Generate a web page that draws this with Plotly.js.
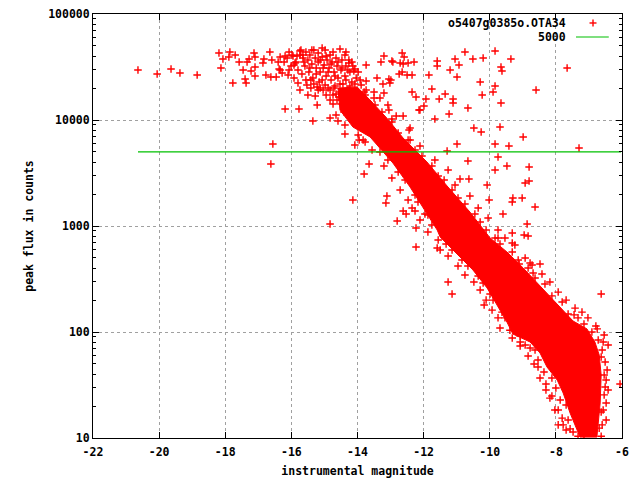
<!DOCTYPE html>
<html>
<head>
<meta charset="utf-8">
<script src="https://cdn.plot.ly/plotly-3.0.1.min.js"></script>
<style>
  html, body { margin: 0; padding: 0; background: #fff; }
  #chart { width: 640px; height: 480px; }
</style>
</head>
<body>
<div id="chart"></div>
<script>
// [instrumental magnitude, peak flux in counts]

// scattered stars away from the main sequence
var sparseStars = [
  [-20.64,29630],[-20.06,27160],[-19.64,30280],[-19.37,27760],[-18.85,26580],
  [-18.19,42870],[-18.13,30940],[-18.07,37640],[-17.86,43810],[-17.89,39300],
  [-17.77,22340],[-17.70,41040],[-17.58,35260],[-17.46,29630],[-17.40,24370],
  [-17.37,22340],[-17.34,35260],[-17.28,37640],[-17.22,29000],[-17.13,42870],
  [-17.10,39300],[-17.10,31620],[-17.10,26020],[-16.86,34500],[-16.83,37640],
  [-16.77,26580],[-16.65,43810],[-16.62,25460],[-16.59,36810],[-16.46,25460],
  [-16.40,35260],[-16.37,30280],[-16.34,39300],[-16.28,27760],[-16.19,12700],
  [-16.13,38450],[-16.07,29630],[-15.95,40160],[-15.89,34500],[-15.80,22340],
  [-15.74,19190],[-15.77,12700],[-15.71,45750],[-15.65,41040],[-15.35,9790],
  [-15.22,13850],[-16.56,5940],[-16.62,3845],
  [-10.75,43810],[-9.84,44760],[-10.51,37640],[-10.20,38450],[-11.05,37640],
  [-10.93,33030],[-11.59,36030],[-11.59,32320],[-11.20,29630],[-11.84,26580],
  [-10.99,25460],[-12.35,26580],[-12.65,42870],[-12.59,39300],[-13.20,40160],
  [-13.29,35260],[-12.96,36030],[-12.71,34500],[-12.65,28370],[-12.47,34500],
  [-12.29,35260],[-13.74,33030],[-13.41,24900],[-13.05,24370],[-13.23,21860],
  [-13.20,17980],[-13.50,18380],[-14.11,29000],[-9.36,37640],[-9.66,31620],
  [-9.63,29000],[-7.66,30940],[-10.29,22830],[-10.23,17210],[-9.84,20930],
  [-9.90,18380],[-8.60,19190],[-9.66,14470],[-10.66,12980],[-11.23,11390],
  [-11.66,10220],[-12.35,18380],[-12.23,16480],[-11.93,15780],[-11.75,19610],
  [-11.53,15780],[-11.35,17590],[-11.11,15780],[-11.11,14470],[-12.14,12430],
  [-11.99,13560],[-12.62,10910],[-10.48,8400],[-10.26,7700],[-9.69,8590],
  [-8.99,6910],[-7.30,5440],[-10.99,5940],[-9.84,5940],[-9.42,5680],
  [-9.75,4476],[-10.66,4104],[-9.48,3681],[-8.81,3603],[-9.84,3375],
  [-10.08,2437],[-8.93,2546],[-8.81,2658],[-10.90,2776],[-10.63,2776],
  [-9.02,1838],[-9.30,1838],[-9.32,1684],[-10.02,1759],[-8.63,1511],
  [-9.60,1298],[-8.87,1044],[-9.32,859],[-8.96,823],[-8.84,805],
  [-9.75,770],[-11.29,5100],[-14.14,1759],[-14.83,1044],[-13.65,3845],
  [-13.80,3094],[-13.11,1919],[-13.14,1648],[-12.80,1115],[-12.62,1385],
  [-12.53,1298],[-12.26,1385],[-12.23,957],[-11.96,1298],[-13.83,6480],
  [-13.95,6480],[-14.59,9790],
  [-12.23,634],[-11.59,620],[-11.26,296],[-11.14,228],[-10.17,180],
  [-8.78,448],[-8.48,438],[-8.69,360],[-9.11,438],[-9.32,691],
  [-9.84,634],[-6.63,228],[-7.21,154],[-7.45,145],[-6.75,107],
  [-6.06,32.3],[-6.57,80.5],[-6.63,58.1],[-6.54,39.3],[-6.51,30.3],
  [-6.48,21.4],[-6.63,17.6],[-6.69,12.4],[-6.63,10.4],[-7.78,13.3],
  [-7.57,12.2],[-8.18,23.8],[-8.03,18.4],[-8.30,32.3],[-8.54,46.7],
  [-9.08,80.5],[-8.78,70.7],[-7.33,10.4],[-7.15,10.4],
  [-15.98,41040],[-15.92,33030],[-15.74,44760],[-15.07,47770],[-15.32,45750],
  [-15.41,23840],[-15.22,20480],[-15.13,20040],[-14.53,46750],[-14.35,43810],
  [-14.26,34500],[-14.08,30280],[-13.74,23330],[-12.93,35260],[-12.62,33750],
  [-12.50,26580],[-12.74,27160],[-12.99,23840],[-13.02,22340],[-13.50,16130],
  [-13.08,13850],[-13.05,12430],[-12.96,10220],[-12.44,8050],[-12.11,12430],
  [-12.41,6480]
];

// the crowded clump at the bright end
var clumpStars = [
  [-15.74,41040],[-15.65,38450],[-15.56,43810],[-15.50,36810],[-15.44,41040],
  [-15.38,45750],[-15.38,33750],[-15.28,38450],[-15.25,30940],[-15.19,42870],
  [-15.19,35260],[-15.13,28370],[-15.07,39300],[-15.01,33030],[-14.98,45750],
  [-14.95,26020],[-14.92,36810],[-14.86,30940],[-14.83,41040],[-14.80,23840],
  [-14.77,35260],[-14.71,28370],[-14.68,20930],[-14.65,38450],[-14.62,32320],
  [-14.59,24900],[-14.53,18380],[-14.50,29630],[-14.47,36810],[-14.44,21860],
  [-14.38,26020],[-14.35,32320],[-14.29,19190],[-14.23,28370],[-14.17,22830],
  [-14.11,17210],[-14.04,24900],[-15.59,32320],[-15.47,28370],[-15.35,24900],
  [-15.16,22830],[-15.04,19190],[-14.89,20040],[-14.74,17210],[-14.62,15440],
  [-14.50,14160],[-15.86,35260],[-15.80,29630],[-15.68,27160],[-15.56,23840],
  [-16.01,32320],[-16.10,26580],[-16.22,35260],[-16.34,29630],[-14.38,41040],
  [-14.26,36810],[-14.14,32320],[-13.98,28370],[-13.89,21380],[-13.80,18380],
  [-14.32,15440],[-14.23,12980],[-14.41,11900],[-14.56,16480],[-14.83,15440],
  [-14.95,17210],[-15.41,20040],[-15.50,17210],[-15.28,16840],[-13.98,15440],
  [-15.13,36810],[-15.04,30940],[-14.95,40160],[-14.89,28370],[-14.80,33750],
  [-14.74,43810],[-14.68,26020],[-14.59,35260],[-14.53,21860],[-14.47,30940],
  [-14.41,18380],[-14.35,23840],[-14.29,29630],[-14.23,20930],[-14.17,35260],
  [-14.08,21860],[-14.02,18380],[-13.92,23840],[-13.86,17210],[-13.74,19190],
  [-15.25,27160],[-15.19,19190],[-15.07,23840],[-14.98,21380],[-14.83,19190],
  [-14.71,20040],[-14.65,17590],[-14.74,14160],[-14.38,16130],[-14.17,13850],
  [-15.53,21380],[-15.62,35260],[-15.44,30940],[-15.32,21860],[-15.83,40160],
  [-16.07,43810],[-15.92,24900],[-16.19,40160]
];

// stars along the edges of the main sequence
var edgeStars = [
  [-13.77,17210],[-13.47,13850],[-13.26,11900],[-12.96,9575],[-12.77,7540],
  [-12.47,6480],[-12.26,5210],[-12.05,4575],[-11.75,3681],[-11.56,2963],
  [-11.38,2716],[-11.14,2186],[-10.96,1838],[-10.75,1613],[-10.45,1298],
  [-10.29,1091],[-10.11,917],[-9.84,770],[-9.69,676],[-9.32,568],
  [-9.14,478],[-8.84,402],[-8.63,323],[-8.33,284],[-8.12,219],
  [-7.81,192],[-7.63,148],[-7.33,136],[-7.15,119],[-6.91,100],
  [-6.72,84.1],[-6.60,67.7],[-6.51,52.1],[-6.48,35.3],[-6.54,25.5],
  [-6.57,18.4],[-6.60,13.3],
  [-13.32,16130],[-12.83,10910],[-12.41,8400],[-12.11,5680],[-11.66,4194],
  [-11.26,3375],[-11.05,2437],[-10.60,1919],[-10.35,1479],[-10.05,1190],
  [-9.75,917],[-9.54,770],[-9.24,662],[-8.93,499],[-8.72,429],
  [-8.42,353],[-8.18,296],[-7.93,238],[-7.69,200],[-7.42,168],
  [-7.03,136],[-6.79,114],[-6.54,93.7],[-6.42,75.4],[-6.45,43.8],
  [-6.42,28.4],[-6.48,14.8],
  [-14.65,11150],[-14.38,8970],[-13.98,7220],[-13.77,6200],[-13.32,4990],
  [-13.08,4194],[-12.77,3231],[-12.56,2716],[-12.26,1961],[-12.17,1684],
  [-11.87,1270],[-11.75,1022],[-11.56,738],[-11.32,676],[-11.14,594],
  [-10.84,478],[-10.66,419],[-10.35,337],[-10.20,290],[-9.99,228],
  [-9.90,200],[-9.63,154],[-9.54,136],[-9.39,104],[-9.08,91.7],
  [-8.93,75.4],[-8.63,67.7],[-8.54,54.4],[-8.36,41.9],[-8.12,36.8],
  [-8.00,29.6],[-7.87,22.8],[-7.69,20.5],[-7.63,14.8],[-7.48,11.4],
  [-14.83,10440],[-14.38,7380],[-14.08,5810],[-13.56,5210],[-13.20,3681],
  [-12.96,2837],[-12.71,2186],[-12.47,1759],[-12.35,1479],[-12.11,1139],
  [-11.87,878],[-11.50,594],[-11.26,521],[-10.96,419],[-10.75,345],
  [-10.48,296],[-10.29,249],[-10.11,200],[-9.93,161],[-9.75,136],
  [-9.69,109],[-9.32,87.8],[-9.08,73.8],[-8.84,59.4],[-8.66,49.9],
  [-8.48,36.8],[-8.30,28.4],[-8.12,24.9],[-7.93,18.4],[-7.81,15.4],
  [-7.69,11.9],[-7.93,13.3]
];

// outline of the solid (fully overplotted) part of the sequence
var coreOutline = [
  [-14.59,20000],[-14.01,20500],[-13.62,15450],[-13.11,10400],[-12.62,6760],
  [-11.90,4020],[-11.29,2385],[-10.60,1355],[-9.99,771],[-9.48,569],
  [-8.99,402],[-8.48,272],[-7.96,180],[-7.48,127],[-7.06,107],
  [-6.82,80.5],[-6.69,60.7],[-6.63,39.3],[-6.66,21.4],[-6.72,14.8],
  [-6.76,10.2],[-7.27,10.2],[-7.36,11.9],[-7.57,17.2],[-7.78,26.6],
  [-7.96,35.2],[-8.27,46.8],[-8.48,63.4],[-8.78,80.5],[-9.30,95.7],
  [-9.48,124],[-9.78,180],[-10.08,260],[-10.51,385],[-10.99,544],
  [-11.50,787],[-11.59,916],[-12.02,1510],[-12.41,2333],[-12.93,3930],
  [-13.62,6920],[-14.14,8590],[-14.53,12400],[-14.59,20000]
];

// threshold line
var limitMag = [-20.64, -6.03];
var limitFlux = [5000, 5000];

var xTicks = [-22, -20, -18, -16, -14, -12, -10, -8, -6];
var yTicks = [10, 100, 1000, 10000, 100000];

var starName = "o5407g0385o.OTA34";
var red = "#ff0000";
var green = "#00c000";
var font = {family: "DejaVu Sans Mono", size: 11.5, color: "#000", weight: "bold"};

var stars = sparseStars.concat(clumpStars, edgeStars);

var core = {
  x: coreOutline.map(function (p) { return p[0]; }),
  y: coreOutline.map(function (p) { return p[1]; }),
  mode: "lines",
  fill: "toself",
  fillcolor: red,
  line: {color: red, width: 1},
  hoverinfo: "skip",
  showlegend: false,
  type: "scatter"
};

var points = {
  x: stars.map(function (p) { return p[0]; }),
  y: stars.map(function (p) { return p[1]; }),
  name: starName,
  mode: "markers",
  marker: {symbol: "cross-thin-open", size: 5.4, color: red, line: {color: red, width: 1.4}},
  type: "scatter"
};

var limit = {
  x: limitMag,
  y: limitFlux,
  name: "5000",
  mode: "lines",
  line: {color: green, width: 1.2},
  type: "scatter"
};

var layout = {
  width: 640,
  height: 480,
  margin: {l: 93, r: 18, t: 14, b: 42},
  paper_bgcolor: "#fff",
  plot_bgcolor: "#fff",
  showlegend: false,
  font: font,
  xaxis: {
    range: [-22, -6],
    tickvals: xTicks,
    ticktext: xTicks.map(String),
    ticks: "inside",
    ticklen: 6,
    tickcolor: "#000",
    ticklabelstandoff: 3,
    showline: true,
    linecolor: "#000",
    linewidth: 1,
    mirror: "allticks",
    showgrid: true,
    gridcolor: "#a0a0a0",
    griddash: "dot",
    zeroline: false,
    tickfont: font,
    title: {text: "instrumental magnitude", font: font, standoff: 9}
  },
  yaxis: {
    type: "log",
    range: [1, 5],
    tickvals: yTicks,
    ticktext: yTicks.map(String),
    ticks: "inside",
    ticklen: 6,
    tickcolor: "#000",
    minor: {ticks: "inside", ticklen: 3, tickcolor: "#000", dtick: "D1", showgrid: false},
    showline: true,
    linecolor: "#000",
    linewidth: 1,
    mirror: "allticks",
    showgrid: true,
    gridcolor: "#a0a0a0",
    griddash: "dot",
    zeroline: false,
    tickfont: font,
    title: {text: "peak flux in counts", font: font, standoff: 12}
  },
  annotations: [
    {xref: "paper", yref: "paper", x: 0.898, y: 0.979, xanchor: "right", yanchor: "middle",
     text: starName, showarrow: false, font: font},
    {xref: "paper", yref: "paper", x: 0.898, y: 0.946, xanchor: "right", yanchor: "middle",
     text: "5000", showarrow: false, font: font}
  ],
  shapes: [
    // legend keys
    {type: "line", xref: "paper", yref: "paper", x0: 0.9386, x1: 0.9518, y0: 0.9788, y1: 0.9788,
     line: {color: red, width: 1.4}},
    {type: "line", xref: "paper", yref: "paper", x0: 0.9452, x1: 0.9452, y0: 0.9705, y1: 0.9870,
     line: {color: red, width: 1.4}},
    {type: "line", xref: "paper", yref: "paper", x0: 0.913, x1: 0.975, y0: 0.9458, y1: 0.9458,
     line: {color: green, width: 1.2}}
  ]
};

var config = {
  displayModeBar: false,
  staticPlot: true
};

Plotly.newPlot("chart", [core, points, limit], layout, config);
</script>
</body>
</html>
